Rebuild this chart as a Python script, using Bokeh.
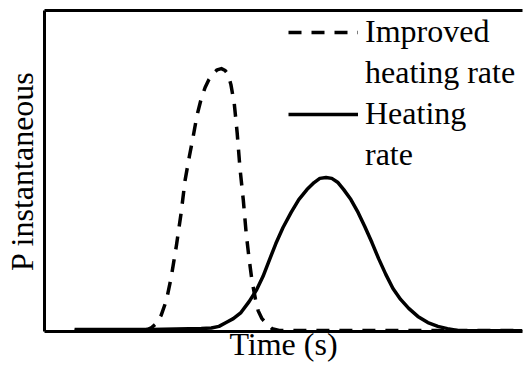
from bokeh.plotting import figure
from bokeh.models import Range1d, LinearAxis, FixedTicker, Legend, LegendItem
from bokeh.embed import file_html
from bokeh.resources import INLINE

# Improved heating rate (dashed) - time (arbitrary units 0..100), instantaneous power (0..1)
t_improved = [6.3, 20.3, 21.5, 22.3, 23.4, 24.4, 25.5, 26.5, 27.6, 28.6, 29.4, 30.3, 31.1,
              31.9, 32.8, 33.6, 34.4, 35.3, 36.1, 37.0, 37.8, 38.4, 39.0, 39.7, 40.3,
              40.9, 41.6, 42.2, 42.8, 43.4, 44.1, 44.7, 45.5, 46.6, 47.6, 49.1, 100.0]
p_improved = [0.003, 0.003, 0.006, 0.011, 0.025, 0.050, 0.097, 0.168, 0.268, 0.371, 0.470,
              0.545, 0.607, 0.673, 0.726, 0.760, 0.785, 0.804, 0.815, 0.819, 0.813, 0.801,
              0.769, 0.710, 0.620, 0.508, 0.408, 0.305, 0.227, 0.159, 0.103, 0.065, 0.040,
              0.022, 0.009, 0.003, 0.003]

# Heating rate (solid)
t_heating = [6.3, 22.3, 32.8, 34.9, 36.5, 38.0, 39.5, 41.1, 42.8, 44.3, 45.7, 47.0, 48.4,
             49.9, 51.6, 53.2, 54.9, 56.4, 57.6, 58.9, 60.1, 61.4, 62.6, 64.1, 65.6, 67.0,
             68.5, 69.9, 71.4, 72.9, 74.5, 76.2, 78.1, 80.2, 82.3, 84.3, 86.4, 88.5, 100.0]
p_heating = [0.006, 0.006, 0.009, 0.011, 0.016, 0.028, 0.040, 0.059, 0.093, 0.128, 0.171,
             0.221, 0.274, 0.324, 0.371, 0.411, 0.442, 0.464, 0.477, 0.480, 0.477, 0.464,
             0.442, 0.411, 0.371, 0.327, 0.277, 0.227, 0.178, 0.134, 0.100, 0.072, 0.047,
             0.028, 0.016, 0.009, 0.003, 0.002, 0.002]

legend_labels = ["Improved", "heating rate", "Heating", "rate"]
x_title = "Time (s)"
y_title = "P instantaneous"

FONT = "Liberation Serif"
FS = "32px"

p = figure(width=523, height=366, output_backend="svg", toolbar_location=None,
           x_range=Range1d(0, 100), y_range=Range1d(0, 1),
           min_border_left=43, min_border_right=1, min_border_top=10, min_border_bottom=35)
p.outline_line_color = None
p.grid.visible = False
p.background_fill_color = "white"
p.border_fill_color = "white"

for ax in (p.xaxis, p.yaxis):
    ax.ticker = FixedTicker(ticks=[])
    ax.major_tick_line_color = None
    ax.minor_tick_line_color = None
    ax.major_label_text_font_size = "0px"
    ax.axis_line_width = 3
    ax.axis_line_color = "black"
    ax.axis_label_text_font = FONT
    ax.axis_label_text_font_size = FS
    ax.axis_label_text_font_style = "normal"
    ax.axis_label_text_color = "black"

p.xaxis.axis_label = x_title
p.yaxis.axis_label = y_title
p.xaxis.axis_label_standoff = -6
p.yaxis.axis_label_standoff = 5

top = LinearAxis(ticker=FixedTicker(ticks=[]), major_tick_line_color=None,
                 minor_tick_line_color=None, major_label_text_font_size="0px",
                 axis_line_width=3, axis_line_color="black")
p.add_layout(top, "above")

r_imp = p.line(t_improved, p_improved, line_color="black", line_width=3.5,
               line_dash="13 10", line_join="round")
r_heat = p.line(t_heating, p_heating, line_color="black", line_width=3.5,
                line_join="round")
r_blank = p.line(t_heating, p_heating, line_alpha=0)

legend = Legend(items=[
    LegendItem(label=legend_labels[0], renderers=[r_imp]),
    LegendItem(label=legend_labels[1], renderers=[r_blank]),
    LegendItem(label=legend_labels[2], renderers=[r_heat]),
    LegendItem(label=legend_labels[3], renderers=[r_blank]),
], location=(244, 158))
legend.glyph_width = 70
legend.glyph_height = 20
legend.label_height = 20
legend.label_standoff = 7
legend.spacing = 4
legend.padding = 0
legend.margin = 0
legend.border_line_color = None
legend.background_fill_alpha = 0
legend.label_text_font = FONT
legend.label_text_font_size = FS
legend.label_text_color = "black"
p.add_layout(legend, "center")

open("out.html", "w").write(file_html(p, INLINE))
